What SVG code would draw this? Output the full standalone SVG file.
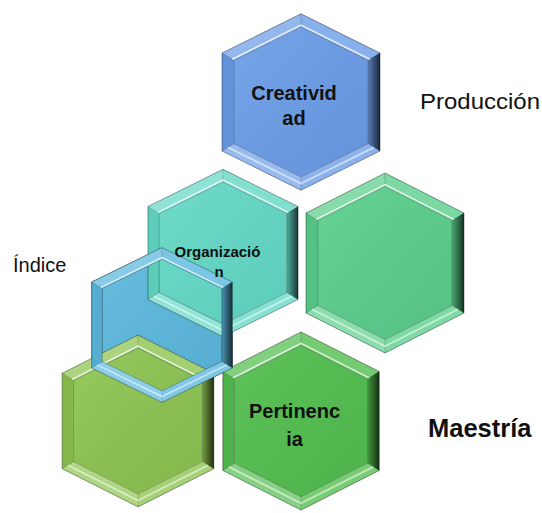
<svg xmlns="http://www.w3.org/2000/svg" width="542" height="513" viewBox="0 0 542 513">
<defs>
<style>
.t{font-family:"Liberation Sans",Arial,sans-serif;fill:#111;}
.b{font-weight:bold;text-anchor:middle;}
.face{stroke:#000;stroke-opacity:0.15;stroke-width:0.6;}
</style>
<linearGradient id="gr" x1="0" y1="0" x2="1" y2="0">
<stop offset="0" stop-color="#000" stop-opacity="0.2"/>
<stop offset="1" stop-color="#000" stop-opacity="0.75"/>
</linearGradient>
<linearGradient id="gfill" x1="0" y1="0" x2="1" y2="1">
<stop offset="0" stop-color="#fff" stop-opacity="0.08"/>
<stop offset="1" stop-color="#000" stop-opacity="0.06"/>
</linearGradient>
<g id="ring">
<path d="M0,-90 L79,-50 L79,50 L0,90 L-79,50 L-79,-50 Z M0,-76.5 L67.15,-42.5 L67.15,42.5 L0,76.5 L-67.15,42.5 L-67.15,-42.5 Z" fill="currentColor" fill-rule="evenodd"/>
<path class="face" d="M0,-90 L-79,-50 L-67.15,-42.5 L0,-76.5 Z" fill="#fff" fill-opacity="0.28"/>
<path class="face" d="M0,-90 L79,-50 L67.15,-42.5 L0,-76.5 Z" fill="#fff" fill-opacity="0.2"/>
<path class="face" d="M79,-50 L79,50 L67.15,42.5 L67.15,-42.5 Z" fill="url(#gr)"/>
<path class="face" d="M79,50 L0,90 L0,76.5 L67.15,42.5 Z" fill="#fff" fill-opacity="0.22"/>
<path class="face" d="M0,90 L-79,50 L-67.15,42.5 L0,76.5 Z" fill="#fff" fill-opacity="0.3"/>
<path class="face" d="M-79,50 L-79,-50 L-67.15,-42.5 L-67.15,42.5 Z" fill="#000" fill-opacity="0.06"/>
<path d="M-68.8,-43.6 L0,-78.4 L68.8,-43.6" fill="none" stroke="#fff" stroke-opacity="0.75" stroke-width="1.6"/>
<path d="M-73,46.3 L0,83.2 L73,46.3" fill="none" stroke="#fff" stroke-opacity="0.55" stroke-width="1.8"/>
<path d="M0,-76.5 L67.15,-42.5 L67.15,42.5 L0,76.5 L-67.15,42.5 L-67.15,-42.5 Z" fill="none" stroke="#000" stroke-opacity="0.18" stroke-width="1"/>
<path d="M0,-90 L79,-50 L79,50 L0,90 L-79,50 L-79,-50 Z" fill="none" stroke="#000" stroke-opacity="0.3" stroke-width="1"/>
</g>
<g id="hex">
<path d="M0,-76.5 L67.15,-42.5 L67.15,42.5 L0,76.5 L-67.15,42.5 L-67.15,-42.5 Z" fill="currentColor"/>
<path d="M0,-76.5 L67.15,-42.5 L67.15,42.5 L0,76.5 L-67.15,42.5 L-67.15,-42.5 Z" fill="url(#gfill)"/>
<use href="#ring"/>
</g>
</defs>

<g id="node-creatividad">
<use href="#hex" style="color:#6b9de8" transform="translate(301,102) scale(1,0.98)"/>
</g>

<g id="node-produccion-hex">
<use href="#hex" style="color:#5acf8c" transform="translate(385,263) scale(1,1)"/>
</g>

<g id="node-indice">
<use href="#hex" style="color:#5bb8de" transform="translate(162,325) scale(0.89,0.86)"/>
</g>

<g id="node-organizacion">
<use href="#hex" style="color:#63d9c6" transform="translate(223,253) scale(0.95,0.93)"/>
</g>

<g id="node-maestria-hex">
<use href="#hex" style="color:#8dc450" transform="translate(138,421) scale(0.96,0.955)"/>
</g>

<g id="node-pertinencia">
<use href="#hex" style="color:#52be4e" transform="translate(301,421) scale(0.99,0.99)"/>
</g>

<g id="node-indice-frame">
<use href="#ring" style="color:#5bb8de" transform="translate(162,325) scale(0.89,0.86)"/>
</g>

<g id="labels">
<text class="t b" x="294" y="100" font-size="20">Creativid</text>
<text class="t b" x="294" y="125" font-size="20">ad</text>
<text class="t b" x="217.5" y="257" font-size="15">Organizació</text>
<text class="t b" x="219" y="277" font-size="15">n</text>
<text class="t b" x="294.5" y="418" font-size="20">Pertinenc</text>
<text class="t b" x="294.5" y="446" font-size="20">ia</text>
<text class="t" x="420" y="109" font-size="22" textLength="120" lengthAdjust="spacingAndGlyphs">Producción</text>
<text class="t" x="13" y="272" font-size="20">Índice</text>
<text class="t" x="428" y="437" font-size="25.5" font-weight="bold">Maestría</text>
</g>
</svg>
